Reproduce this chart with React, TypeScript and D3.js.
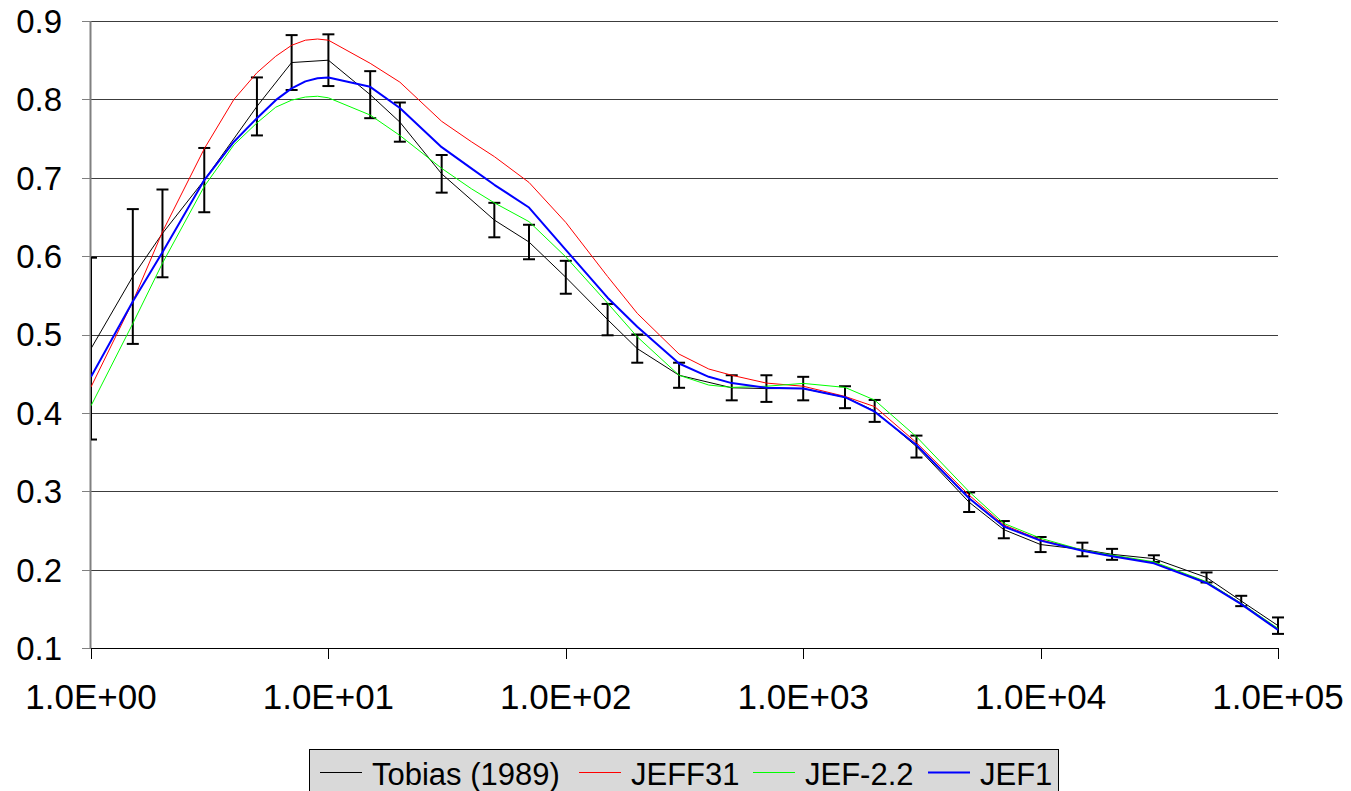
import React from "react";
import * as d3 from "d3";

// ---- Data ----
const tobiasE = [1, 1.5, 2, 3, 5, 7, 10, 15, 20, 30, 50, 70, 100, 150, 200, 300, 500, 700, 1000, 1500, 2000, 3000, 5000, 7000, 10000, 15000, 20000, 30000, 50000, 70000, 100000];
const tobiasY = [0.482, 0.574, 0.629, 0.697, 0.791, 0.847, 0.85, 0.806, 0.771, 0.705, 0.646, 0.618, 0.573, 0.519, 0.482, 0.448, 0.432, 0.431, 0.431, 0.42, 0.4025, 0.357, 0.286, 0.251, 0.232, 0.2257, 0.2195, 0.214, 0.19, 0.16, 0.1285];
const tobiasErr = [0.116, 0.086, 0.056, 0.041, 0.037, 0.035, 0.033, 0.03, 0.025, 0.024, 0.022, 0.022, 0.021, 0.02, 0.018, 0.016, 0.016, 0.017, 0.015, 0.014, 0.014, 0.014, 0.0125, 0.011, 0.0096, 0.0087, 0.007, 0.0043, 0.0064, 0.0066, 0.0105];

const modelE = [1, 1.5, 2, 3, 4, 5, 6, 7, 8, 9, 10, 15, 20, 30, 40, 50, 70, 100, 150, 200, 300, 400, 500, 700, 1000, 1500, 2000, 3000, 5000, 7000, 10000, 15000, 20000, 30000, 50000, 70000, 100000];
const jeff31Y = [0.433, 0.542, 0.631, 0.737, 0.8, 0.834, 0.855, 0.869, 0.8755, 0.877, 0.8755, 0.846, 0.822, 0.772, 0.746, 0.727, 0.694, 0.643, 0.574, 0.527, 0.475, 0.456, 0.448, 0.438, 0.434, 0.421, 0.408, 0.362, 0.295, 0.257, 0.238, 0.225, 0.218, 0.209, 0.184, 0.157, 0.124];
const jef22Y = [0.409, 0.514, 0.591, 0.689, 0.742, 0.77, 0.79, 0.799, 0.803, 0.804, 0.802, 0.78, 0.754, 0.712, 0.686, 0.668, 0.644, 0.599, 0.54, 0.497, 0.448, 0.4355, 0.4325, 0.434, 0.4376, 0.4325, 0.4163, 0.3695, 0.2994, 0.259, 0.24, 0.225, 0.2186, 0.21, 0.1846, 0.157, 0.125];
const jef1Y = [0.446, 0.542, 0.605, 0.697, 0.746, 0.776, 0.799, 0.814, 0.823, 0.827, 0.828, 0.816, 0.789, 0.739, 0.712, 0.691, 0.662, 0.608, 0.547, 0.51, 0.463, 0.446, 0.438, 0.432, 0.431, 0.42, 0.4015, 0.359, 0.291, 0.255, 0.237, 0.224, 0.217, 0.208, 0.183, 0.156, 0.123];

const yTicks = [0.1, 0.2, 0.3, 0.4, 0.5, 0.6, 0.7, 0.8, 0.9];
const xTicks = [1, 10, 100, 1000, 10000, 100000];
const xTickLabels = ["1.0E+00", "1.0E+01", "1.0E+02", "1.0E+03", "1.0E+04", "1.0E+05"];

const legendNames = ["Tobias (1989)", "JEFF31", "JEF-2.2", "JEF1"];
const legendColors = ["#000000", "#ff0000", "#00ff00", "#0000ff"];

// ---- Layout ----
const W = 1351, H = 791;
const left = 91, right = 1278, top = 21, bottom = 648;
const FONT = "'Liberation Sans', Arial, sans-serif";

export default function App() {
  const x = d3.scaleLog().domain([1, 100000]).range([left, right]);
  const y = d3.scaleLinear().domain([0.1, 0.9]).range([bottom, top]);

  const mk = (es: number[], vs: number[]) =>
    d3.line<number>().x((_, i) => x(es[i])).y((v) => y(v))(vs) || "";

  const series = [
    { vals: jeff31Y, color: "#ff0000", w: 1 },
    { vals: jef22Y, color: "#00ff00", w: 1 },
    { vals: jef1Y, color: "#0000ff", w: 2 },
  ];

  const legendX = 309, legendY = 749, legendW = 749, legendH = 50;
  const itemOffsets = [11, 270, 444, 619];

  return (
    <svg width={W} height={H} style={{ position: "absolute", left: 0, top: 0, background: "#fff" }}>
      <defs>
        <clipPath id="plot">
          <rect x={left} y={0} width={right - left + 10} height={bottom} />
        </clipPath>
      </defs>
      {yTicks.map((t) => (
        <line key={t} x1={left} x2={right} y1={Math.round(y(t)) + 0.5} y2={Math.round(y(t)) + 0.5} stroke="#3c3c3c" strokeWidth={1} />
      ))}
      <line x1={left - 0.5} x2={left - 0.5} y1={top} y2={bottom} stroke="#808080" strokeWidth={2} />
      {yTicks.map((t) => (
        <line key={"yt" + t} x1={left - 9} x2={left} y1={Math.round(y(t)) + 0.5} y2={Math.round(y(t)) + 0.5} stroke="#808080" strokeWidth={1} />
      ))}
      {yTicks.map((t) => (
        <text key={"yl" + t} x={62} y={y(t)} dy="0.36em" textAnchor="end" fontFamily={FONT} fontSize={33} fill="#000">
          {t.toFixed(1)}
        </text>
      ))}
      <line x1={left} x2={right} y1={bottom + 0.5} y2={bottom + 0.5} stroke="#000" strokeWidth={1} />
      {xTicks.map((t) => (
        <line key={"xt" + t} x1={Math.round(x(t)) + 0.5} x2={Math.round(x(t)) + 0.5} y1={bottom} y2={bottom + 11} stroke="#000" strokeWidth={1} />
      ))}
      {xTicks.map((t, i) => (
        <text key={"xl" + t} x={x(t)} y={709} textAnchor="middle" fontFamily={FONT} fontSize={35} fill="#000">
          {xTickLabels[i]}
        </text>
      ))}
      <g clipPath="url(#plot)">
        <path d={mk(tobiasE, tobiasY)} fill="none" stroke="#000" strokeWidth={1} />
        {tobiasE.map((e, i) => {
          const cx = x(e);
          const y1 = y(tobiasY[i] + tobiasErr[i]);
          const y2 = y(tobiasY[i] - tobiasErr[i]);
          return (
            <g key={"eb" + i} stroke="#000" strokeWidth={2}>
              <line x1={cx} x2={cx} y1={y1} y2={y2} />
              <line x1={cx - 6} x2={cx + 6} y1={y1} y2={y1} />
              <line x1={cx - 6} x2={cx + 6} y1={y2} y2={y2} />
            </g>
          );
        })}
        {series.map((s, k) => (
          <path key={"s" + k} d={mk(modelE, s.vals)} fill="none" stroke={s.color} strokeWidth={s.w} strokeLinejoin="round" />
        ))}
      </g>
      <rect x={legendX + 0.5} y={legendY + 0.5} width={legendW} height={legendH} fill="#d9d9d9" stroke="#000" strokeWidth={1} />
      {legendNames.map((n, i) => (
        <g key={"lg" + i}>
          <line x1={legendX + itemOffsets[i]} x2={legendX + itemOffsets[i] + 42} y1={772.5} y2={772.5} stroke={legendColors[i]} strokeWidth={i === 3 ? 2 : 1} />
          <text x={legendX + itemOffsets[i] + 52} y={785} fontFamily={FONT} fontSize={31} fill="#000">
            {n}
          </text>
        </g>
      ))}
    </svg>
  );
}
